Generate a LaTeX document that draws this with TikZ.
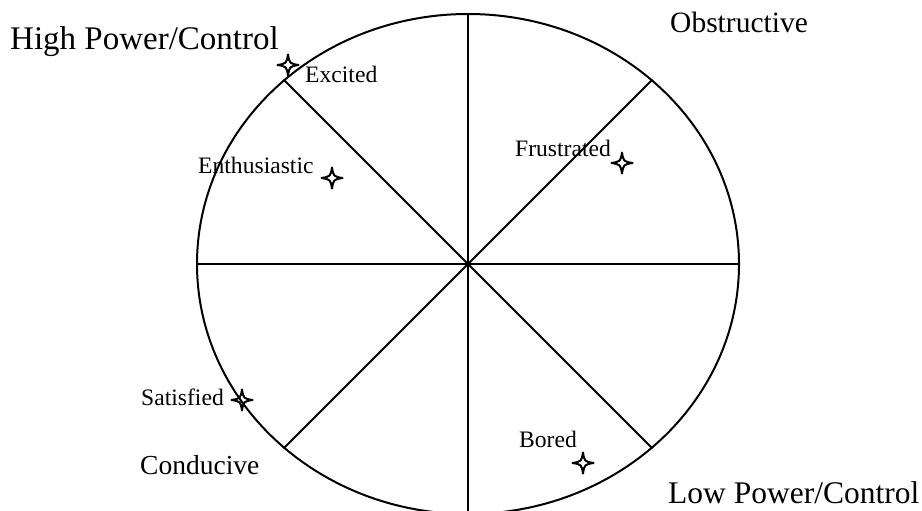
\documentclass[tikz,border=0pt]{standalone}
\usepackage{fontspec}
\setmainfont{Liberation Serif}
\usetikzlibrary{shapes.geometric}

\begin{document}
\begin{tikzpicture}[
  x=1pt, y=-1pt,
  bigtag/.style={anchor=base west, inner sep=0pt, font=\fontsize{31.5}{36}\selectfont},
  emo/.style={anchor=base west, inner sep=0pt, font=\fontsize{23.6}{28}\selectfont},
  spoke/.style={line width=2pt},
  spark/.pic={\draw[line width=2pt, line join=round]
    (0,10.5) .. controls (1.5,1.5) .. (10.5,0) .. controls (1.5,-1.5) .. (0,-10.5)
    .. controls (-1.5,-1.5) .. (-10.5,0) .. controls (-1.5,1.5) .. cycle;}
]
  \clip (0,0) rectangle (922,511);
  \node[draw, ellipse, line width=2pt, inner sep=0pt,
        minimum width=542pt, minimum height=500pt] (wheel) at (468,264) {};
  % spokes
  \draw[spoke] (wheel.north) -- (wheel.south);
  \draw[spoke] (wheel.west) -- (wheel.east);
  \draw[spoke] (wheel.135) -- (wheel.-45);
  \draw[spoke] (wheel.45) -- (wheel.-135);
  % corner labels
  \node[bigtag, font=\fontsize{33}{38}\selectfont] (high) at (10,50) {High Power/Control};
  \node[bigtag, font=\fontsize{29.5}{34}\selectfont] (obst) at (670,33) {Obstructive};
  \node[bigtag, font=\fontsize{27.5}{32}\selectfont] (cond) at (140,474) {Conducive};
  \node[bigtag] (low) at (668,503) {Low Power/Control};
  % emotions
  \node[emo] (excited) at (305,83) {Excited};
  \node[emo] (enthus) at (198,173) {Enthusiastic};
  \node[emo] (frus) at (515,157) {Frustrated};
  \node[emo] (satis) at (141,405) {Satisfied};
  \node[emo] (bored) at (519,447) {Bored};
  \pic at (288,65) {spark};
  \pic at (332,178) {spark};
  \pic at (622,163) {spark};
  \pic at (242,400) {spark};
  \pic at (583,463) {spark};
\end{tikzpicture}
\end{document}
